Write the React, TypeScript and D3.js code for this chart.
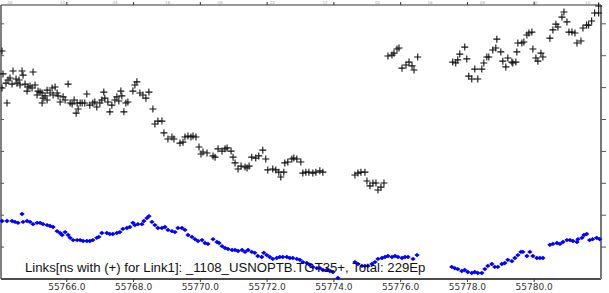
import React, { useEffect, useRef } from "react";
import * as d3 from "d3";

// Link1 time differences (black +), [MJD, ns]
const link1Plus = [
  [55764.06, 7.15], [55764.09, 6.43], [55764.06, 5.99], [55764.18, 6.14], [55764.21, 5.52],
  [55764.24, 6.24], [55764.30, 6.30], [55764.36, 6.11], [55764.39, 6.52], [55764.48, 6.27],
  [55764.51, 6.14], [55764.57, 6.24], [55764.60, 6.08], [55764.66, 6.52], [55764.69, 6.39],
  [55764.75, 6.11], [55764.81, 5.89], [55764.84, 6.02], [55764.90, 6.05], [55764.96, 5.99],
  [55764.99, 6.49], [55765.05, 6.08], [55765.11, 5.77], [55765.14, 5.89], [55765.20, 5.86],
  [55765.26, 5.83], [55765.26, 5.52], [55765.29, 5.67], [55765.35, 5.74], [55765.41, 5.92],
  [55765.41, 5.61], [55765.50, 5.83], [55765.56, 5.99], [55765.59, 5.77], [55765.65, 6.02],
  [55765.71, 5.83], [55765.74, 5.74], [55765.80, 5.55], [55765.89, 5.71], [55765.95, 5.61],
  [55766.04, 6.11], [55766.10, 5.52], [55766.16, 5.49], [55766.22, 5.61], [55766.28, 5.20],
  [55766.31, 5.52], [55766.34, 5.33], [55766.40, 5.52], [55766.46, 5.52], [55766.54, 5.52],
  [55766.60, 5.80], [55766.69, 5.45], [55766.78, 5.52], [55766.84, 5.55], [55766.90, 5.39],
  [55766.99, 5.52], [55767.05, 5.61], [55767.11, 5.86], [55767.14, 5.67], [55767.23, 5.55],
  [55767.29, 5.24], [55767.35, 5.45], [55767.44, 5.61], [55767.50, 5.71], [55767.56, 5.58],
  [55767.62, 5.89], [55767.65, 5.74], [55767.71, 5.24], [55767.77, 5.52], [55767.83, 5.55],
  [55767.98, 5.89], [55768.04, 6.08], [55768.10, 6.18], [55768.19, 5.83], [55768.28, 5.77],
  [55768.37, 5.67], [55768.46, 5.86], [55768.58, 5.33], [55768.64, 4.86], [55768.73, 4.95],
  [55768.85, 4.95], [55768.91, 4.58], [55769.03, 4.39], [55769.15, 4.45], [55769.21, 4.39],
  [55769.39, 4.26], [55769.48, 4.29], [55769.54, 4.45], [55769.63, 4.48], [55769.72, 4.45],
  [55769.78, 4.48], [55769.87, 4.45], [55769.96, 4.14], [55770.02, 3.92], [55770.08, 3.98],
  [55770.20, 3.95], [55770.38, 3.86], [55770.44, 3.82], [55770.53, 4.08], [55770.65, 4.01],
  [55770.74, 4.08], [55770.80, 4.11], [55770.92, 4.01], [55770.98, 3.82], [55771.04, 3.64],
  [55771.13, 3.45], [55771.22, 3.54], [55771.34, 3.51], [55771.40, 3.48], [55771.46, 3.54],
  [55771.54, 3.82], [55771.66, 3.79], [55771.75, 3.86], [55771.87, 4.04], [55771.96, 3.76],
  [55772.02, 3.42], [55772.17, 3.45], [55772.26, 3.42], [55772.35, 3.35], [55772.41, 3.20],
  [55772.50, 3.35], [55772.53, 3.64], [55772.62, 3.67], [55772.74, 3.76], [55772.80, 3.79],
  [55772.89, 3.76], [55773.01, 3.67], [55773.07, 3.32], [55773.16, 3.35], [55773.25, 3.35],
  [55773.37, 3.32], [55773.46, 3.35], [55773.58, 3.39], [55773.67, 3.35], [55774.63, 3.26],
  [55774.72, 3.32], [55774.81, 3.35], [55774.93, 3.35], [55774.99, 3.07], [55775.08, 2.92],
  [55775.17, 3.01], [55775.26, 3.01], [55775.32, 2.79], [55775.41, 2.88], [55775.50, 3.01],
  [55775.62, 6.99], [55775.74, 7.02], [55775.80, 7.08], [55775.89, 7.21], [55775.95, 7.24],
  [55776.04, 6.61], [55776.16, 6.71], [55776.25, 6.80], [55776.34, 6.68], [55776.40, 6.55],
  [55776.51, 6.96], [55777.56, 6.80], [55777.65, 6.77], [55777.71, 6.87], [55777.77, 7.05],
  [55777.92, 7.27], [55777.98, 6.90], [55778.04, 6.36], [55778.13, 6.27], [55778.22, 6.58],
  [55778.31, 6.27], [55778.43, 6.58], [55778.49, 6.77], [55778.58, 6.96], [55778.64, 6.96],
  [55778.76, 7.18], [55778.85, 7.24], [55778.88, 7.52], [55779.00, 7.12], [55779.06, 6.83],
  [55779.15, 6.65], [55779.21, 6.93], [55779.33, 6.80], [55779.36, 6.77], [55779.45, 6.80],
  [55779.48, 7.12], [55779.51, 7.40], [55779.63, 7.40], [55779.69, 7.43], [55779.78, 7.65],
  [55779.84, 7.71], [55779.93, 7.74], [55779.96, 7.21], [55780.05, 6.93], [55780.11, 6.83],
  [55780.20, 7.08], [55780.26, 6.96], [55780.47, 7.55], [55780.56, 7.81], [55780.65, 7.99],
  [55780.71, 7.90], [55780.83, 8.21], [55780.89, 8.37], [55780.98, 8.06], [55781.04, 7.74],
  [55781.13, 7.74], [55781.22, 7.71], [55781.28, 7.40], [55781.40, 7.46], [55781.46, 7.87],
  [55781.57, 7.96], [55781.63, 7.96], [55781.72, 8.09], [55781.81, 8.34], [55781.93, 8.34],
  [55781.93, 8.56],
];

// second link (blue diamonds), [MJD, ns]
const link2Diamond = [
  [55764.06, 1.82], [55764.21, 1.82], [55764.36, 1.82], [55764.45, 1.79], [55764.54, 1.76],
  [55764.66, 2.04], [55764.69, 1.79], [55764.81, 1.82], [55764.90, 1.79], [55764.99, 1.72],
  [55765.11, 1.76], [55765.20, 1.76], [55765.29, 1.72], [55765.41, 1.69], [55765.50, 1.66],
  [55765.59, 1.63], [55765.71, 1.50], [55765.80, 1.44], [55765.86, 1.38], [55765.95, 1.47],
  [55766.04, 1.38], [55766.10, 1.29], [55766.19, 1.22], [55766.31, 1.22], [55766.40, 1.22],
  [55766.49, 1.19], [55766.60, 1.19], [55766.69, 1.19], [55766.78, 1.22], [55766.90, 1.29],
  [55766.96, 1.32], [55767.05, 1.44], [55767.20, 1.44], [55767.29, 1.41], [55767.38, 1.41],
  [55767.50, 1.44], [55767.59, 1.47], [55767.68, 1.57], [55767.80, 1.60], [55767.89, 1.63],
  [55767.98, 1.76], [55768.04, 1.69], [55768.13, 1.72], [55768.25, 1.72], [55768.31, 1.82],
  [55768.40, 1.91], [55768.46, 1.97], [55768.55, 1.79], [55768.64, 1.69], [55768.73, 1.60],
  [55768.85, 1.60], [55768.94, 1.63], [55769.03, 1.54], [55769.15, 1.50], [55769.24, 1.47],
  [55769.33, 1.60], [55769.45, 1.60], [55769.54, 1.54], [55769.63, 1.38], [55769.75, 1.32],
  [55769.84, 1.25], [55769.93, 1.19], [55770.05, 1.22], [55770.14, 1.13], [55770.23, 1.10],
  [55770.38, 1.25], [55770.50, 1.16], [55770.56, 1.13], [55770.65, 1.03], [55770.74, 0.97],
  [55770.83, 0.94], [55770.95, 0.91], [55771.04, 0.91], [55771.13, 0.88], [55771.25, 0.91],
  [55771.34, 0.85], [55771.43, 0.91], [55771.54, 0.85], [55771.63, 0.82], [55771.72, 0.72],
  [55771.84, 0.69], [55771.90, 0.82], [55771.99, 0.75], [55772.08, 0.69], [55772.17, 0.63],
  [55772.29, 0.66], [55772.38, 0.69], [55772.47, 0.69], [55772.59, 0.69], [55772.68, 0.66],
  [55772.77, 0.66], [55772.89, 0.63], [55772.98, 0.60], [55773.07, 0.53], [55773.19, 0.50],
  [55773.28, 0.44], [55773.37, 0.38], [55773.49, 0.34], [55773.58, 0.34], [55773.67, 0.28],
  [55773.79, 0.28], [55773.88, 0.25], [55773.97, 0.22], [55774.12, 0.03], [55774.63, 0.53],
  [55774.72, 0.47], [55774.84, 0.41], [55774.93, 0.41], [55775.02, 0.41], [55775.14, 0.47],
  [55775.23, 0.53], [55775.32, 0.63], [55775.44, 0.66], [55775.53, 0.69], [55775.62, 0.72],
  [55775.74, 0.69], [55775.83, 0.72], [55775.92, 0.69], [55776.04, 0.66], [55776.13, 0.69],
  [55776.22, 0.69], [55776.37, 0.63], [55776.49, 0.75], [55777.53, 0.38], [55777.62, 0.34],
  [55777.71, 0.31], [55777.83, 0.25], [55777.92, 0.28], [55778.01, 0.22], [55778.13, 0.19],
  [55778.22, 0.22], [55778.31, 0.19], [55778.43, 0.19], [55778.52, 0.31], [55778.61, 0.41],
  [55778.73, 0.47], [55778.82, 0.38], [55778.91, 0.38], [55779.03, 0.47], [55779.12, 0.50],
  [55779.21, 0.60], [55779.33, 0.56], [55779.42, 0.66], [55779.51, 0.75], [55779.60, 0.85],
  [55779.66, 0.85], [55779.78, 0.72], [55779.87, 0.85], [55779.96, 0.72], [55780.08, 0.66],
  [55780.17, 0.66], [55780.26, 0.66], [55780.47, 1.07], [55780.56, 1.10], [55780.68, 1.13],
  [55780.77, 1.10], [55780.86, 1.16], [55780.98, 1.22], [55781.07, 1.22], [55781.16, 1.19],
  [55781.28, 1.16], [55781.31, 1.25], [55781.43, 1.29], [55781.49, 1.38], [55781.57, 1.41],
  [55781.66, 1.22], [55781.75, 1.25], [55781.87, 1.29], [55781.96, 1.25],
];

const xTickValues = [55766, 55768, 55770, 55772, 55774, 55776, 55778, 55780];
const topTickLabels = ["00", "14", "04", "18", "08", "22", "12", "02", "16", "06", "20", "10"];
const titleText = "Links[ns with (+) for Link1]: _1108_USNOPTB.TGT35+, Total: 229Ep";

const App = () => {
  const width = 609;
  const height = 293;
  const left = 1, right = 601, top = 5, bottom = 279;
  const svgRef = useRef(null);

  useEffect(() => {
    const svg = d3.select(svgRef.current);
    svg.selectAll("*").remove();

    const x = d3.scaleLinear().domain([55764.03, 55782]).range([left, right]);
    const y = d3.scaleLinear().domain([0, 8.59]).range([bottom, top]);

    // tiny faint labels squeezed above the top axis
    const topScale = d3.scalePoint().domain(topTickLabels.map((d, i) => i + "")).range([x(55764.3), x(55781.6)]);
    svg.append("g")
      .selectAll("text")
      .data(topTickLabels)
      .join("text")
      .attr("x", (d, i) => topScale(i + ""))
      .attr("y", 3.5)
      .attr("text-anchor", "middle")
      .attr("font-family", "DejaVu Sans")
      .attr("font-size", 4)
      .attr("fill", "#aaa")
      .text((d) => d);

    // frame
    svg.append("line").attr("x1", left).attr("x2", right).attr("y1", top).attr("y2", top)
      .attr("stroke", "#333").attr("stroke-width", 1.2);
    svg.append("line").attr("x1", left).attr("x2", right).attr("y1", bottom).attr("y2", bottom)
      .attr("stroke", "#111").attr("stroke-width", 1.5);
    svg.append("line").attr("x1", left).attr("x2", left).attr("y1", top).attr("y2", bottom)
      .attr("stroke", "#555").attr("stroke-width", 1.5);
    svg.append("line").attr("x1", right).attr("x2", right).attr("y1", top).attr("y2", bottom)
      .attr("stroke", "#777").attr("stroke-width", 2);

    // y ticks, no labels
    const yTicks = y.ticks(8).filter((d) => d > 0);
    svg.append("g").selectAll("line").data(yTicks).join("line")
      .attr("x1", left).attr("x2", left + 3)
      .attr("y1", (d) => y(d)).attr("y2", (d) => y(d))
      .attr("stroke", "#555");
    svg.append("g").selectAll("line").data(yTicks).join("line")
      .attr("x1", right).attr("x2", right + 5)
      .attr("y1", (d) => y(d)).attr("y2", (d) => y(d))
      .attr("stroke", "#555");

    // x ticks (top and bottom)
    svg.append("g").selectAll("line").data(xTickValues).join("line")
      .attr("x1", (d) => x(d)).attr("x2", (d) => x(d))
      .attr("y1", bottom).attr("y2", bottom + 3)
      .attr("stroke", "#333");
    svg.append("g").selectAll("line").data(xTickValues).join("line")
      .attr("x1", (d) => x(d)).attr("x2", (d) => x(d))
      .attr("y1", top).attr("y2", top - 3)
      .attr("stroke", "#333");
    svg.append("g").selectAll("text").data(xTickValues).join("text")
      .attr("x", (d) => x(d))
      .attr("y", 290)
      .attr("text-anchor", "middle")
      .attr("font-family", "DejaVu Sans")
      .attr("font-size", 9)
      .attr("fill", "#333")
      .text((d) => d3.format(".1f")(d));

    // blue diamonds
    svg.append("g").selectAll("path").data(link2Diamond).join("path")
      .attr("d", "M-2.7,0L0,-2.2L2.7,0L0,2.2Z")
      .attr("transform", (d) => `translate(${x(d[0])},${y(d[1])})`)
      .attr("fill", "#0000ff");

    // black crosses
    svg.append("g").selectAll("path").data(link1Plus).join("path")
      .attr("d", "M-3.5,0H3.5M0,-3.5V3.5")
      .attr("transform", (d) => `translate(${x(d[0])},${y(d[1])})`)
      .attr("fill", "none")
      .attr("stroke", "#111")
      .attr("stroke-width", 1.1);

    svg.append("text")
      .attr("x", 25)
      .attr("y", 272)
      .attr("font-family", "Liberation Sans, Arial, sans-serif")
      .attr("font-size", 13.2)
      .attr("fill", "#111")
      .text(titleText);
  }, []);

  return (
    <svg ref={svgRef} width={width} height={height}
      style={{ position: "absolute", left: 0, top: 0, background: "#fff" }}></svg>
  );
};

export default App;
